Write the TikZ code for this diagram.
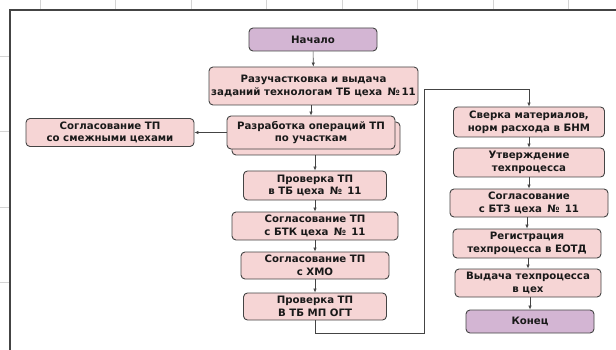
\documentclass[tikz,border=0pt]{standalone}
\usepackage{fontspec}
\setmainfont{DejaVu Sans}
\usetikzlibrary{arrows.meta}
\definecolor{stagepink}{RGB}{246,213,213}
\definecolor{termlilac}{RGB}{211,181,211}
\definecolor{edgegray}{RGB}{68,68,68}
\definecolor{gridgray}{RGB}{212,212,212}

\begin{document}
\begin{tikzpicture}[x=1pt, y=-1pt,
    stage/.style={rectangle, draw=edgegray, fill=stagepink, rounded corners=4pt, line width=0.9pt,
                  align=center, inner sep=1pt, text=black!90, font=\bfseries\fontsize{10.2}{12.8}\selectfont},
    terminal/.style={stage, fill=termlilac},
    arrow/.style={-{Latex[length=4pt,width=3.5pt]}, line width=0.6pt, draw=edgegray},
    gridline/.style={draw=gridgray, line width=0.8pt},
    frame/.style={draw=edgegray, line width=1.5pt}
]
\useasboundingbox (0,0) rectangle (616,350);

% Sheet grid and frame
\foreach \k in {0,...,7}
  \draw[gridline] ({40+75.5*\k},0) -- ++(0,10);
\foreach \k in {0,...,3}
  \draw[gridline] (0,{56+75.5*\k}) -- ++(10,0);
\draw[frame] (10,350) -- (10,10) -- (616,10);

% Left column
\node[terminal, minimum width=128pt, minimum height=23pt] (start) at (313,39.5) {Начало};
\node[stage, minimum width=209pt, minimum height=38pt] (split) at (313.5,86) {Разучастковка и выдача\\заданий технологам ТБ цеха \,№\,11};
\node[stage, minimum width=168pt, minimum height=33pt] (devback) at (316,138.5) {\phantom{x}};
\node[stage, minimum width=168pt, minimum height=33pt] (dev) at (311,132.5) {Разработка операций ТП\\по участкам};
\node[stage, minimum width=168pt, minimum height=28pt] (adjshops) at (110,132.5) {Согласование ТП\\со смежными цехами};
\node[stage, minimum width=143pt, minimum height=29pt] (checktb) at (315,185.5) {Проверка ТП\\в ТБ цеха \,№\, 11};
\node[stage, minimum width=166pt, minimum height=28pt] (btk) at (315,226) {Согласование ТП\\с БТК цеха \,№\, 11};
\node[stage, minimum width=148pt, minimum height=27pt] (hmo) at (315,265.5) {Согласование ТП\\с ХМО};
\node[stage, minimum width=143pt, minimum height=27pt] (checkmp) at (315,306.5) {Проверка ТП\\В ТБ МП ОГТ};

% Right column
\node[stage, minimum width=151pt, minimum height=30pt] (materials) at (529,122) {Сверка материалов,\\норм расхода в БНМ};
\node[stage, minimum width=151pt, minimum height=29pt] (approve) at (529,162.5) {Утверждение\\техпроцесса};
\node[stage, minimum width=158pt, minimum height=28pt] (btz) at (529,203) {Согласование\\с БТЗ цеха \,№\, 11};
\node[stage, minimum width=148pt, minimum height=29pt] (register) at (527,243.5) {Регистрация\\техпроцесса в ЕОТД};
\node[stage, minimum width=146pt, minimum height=28pt] (issue) at (528,283) {Выдача техпроцесса\\в цех};
\node[terminal, minimum width=128pt, minimum height=23pt] (finish) at (530,321.5) {Конец};

% Return route
\coordinate (back1) at (424,333);
\coordinate (back2) at (424,89);

% Connections
\draw[arrow] (start) -- (split);
\draw[arrow] (split.south -| dev) -- (dev);
\draw[arrow] (dev) -- (adjshops);
\draw[arrow] (devback.south -| checktb) -- (checktb);
\draw[arrow] (checktb) -- (btk);
\draw[arrow] (btk) -- (hmo);
\draw[arrow] (hmo) -- (checkmp);
\draw[arrow] (checkmp.south) |- (back1) -- (back2) -| (materials.north);
\draw[arrow] (materials) -- (approve);
\draw[arrow] (approve) -- (btz);
\draw[arrow] (btz.south -| register) -- (register);
\draw[arrow] (register.south -| issue) -- (issue);
\draw[arrow] (issue.south -| finish) -- (finish);

\end{tikzpicture}
\end{document}
